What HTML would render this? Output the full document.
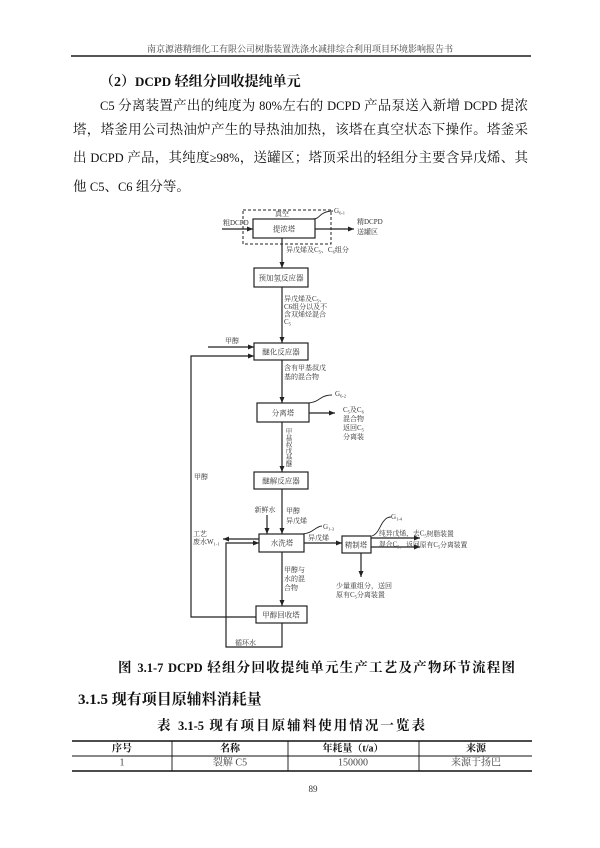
<!DOCTYPE html>
<html><head><meta charset="utf-8">
<style>
html,body{margin:0;padding:0;background:#fff;}
body{width:600px;height:848px;position:relative;overflow:hidden;font-family:"Liberation Serif","Noto Serif CJK SC",serif;color:#111;}
.a{position:absolute;white-space:nowrap;}
.j{position:absolute;text-align:justify;text-align-last:justify;}
.e{font-size:12.5px;}
</style></head><body>

<div class="a" style="left:147px;top:43px;font-size:9px;line-height:12px;color:#444;letter-spacing:0px;">南京源港精细化工有限公司树脂装置洗涤水减排综合利用项目环境影响报告书</div>
<div class="a" style="left:71px;top:55px;width:460px;height:1.5px;background:#555;"></div>

<div class="a" style="left:100px;top:72px;font-size:14px;line-height:20px;font-weight:bold;">（2）<span style="font-size:13px">DCPD</span> 轻组分回收提纯单元</div>

<div class="j" style="left:100px;top:96px;width:428px;font-size:13.5px;line-height:20px;"><span class="e">C5</span> 分离装置产出的纯度为 <span class="e">80%</span>左右的 <span class="e">DCPD</span> 产品泵送入新增 <span class="e">DCPD</span> 提浓</div>
<div class="j" style="left:73px;top:120px;width:455px;font-size:13.5px;line-height:20px;">塔，塔釜用公司热油炉产生的导热油加热，该塔在真空状态下操作。塔釜采</div>
<div class="j" style="left:73px;top:148px;width:455px;font-size:13.5px;line-height:20px;">出 <span class="e">DCPD</span> 产品，其纯度<span class="e">≥98%</span>，送罐区；塔顶采出的轻组分主要含异戊烯、其</div>
<div class="a" style="left:73px;top:177px;font-size:13.5px;line-height:20px;">他 <span class="e">C5</span>、<span class="e">C6</span> 组分等。</div>

<svg class="a" style="left:0;top:0" width="600" height="848" viewBox="0 0 600 848" font-family="Liberation Serif, 'Noto Serif CJK SC', serif">
<defs>
<marker id="m" markerUnits="userSpaceOnUse" markerWidth="6" markerHeight="5" refX="6" refY="2.5" orient="auto"><path d="M0,0 L6,2.5 L0,5 z" fill="#222"/></marker>
</defs>
<g fill="none" stroke="#222" stroke-width="1.2">
<rect x="243" y="210" width="88" height="34" stroke-dasharray="3,2" stroke-width="1"/>
<rect x="253" y="219" width="62" height="19"/>
<rect x="254" y="268" width="54" height="19"/>
<rect x="254" y="343" width="54" height="17"/>
<rect x="257" y="403" width="52" height="19"/>
<rect x="254" y="472" width="54" height="17"/>
<rect x="259" y="534" width="45" height="18"/>
<rect x="342" y="536" width="29" height="17"/>
<rect x="256" y="606" width="51" height="17"/>
<path d="M222,229 H253" marker-end="url(#m)"/>
<path d="M315,229 H354" marker-end="url(#m)"/>
<path d="M282,238 V268" marker-end="url(#m)"/>
<path d="M282,287 V343" marker-end="url(#m)"/>
<path d="M208,347 H254" marker-end="url(#m)"/>
<path d="M256,617 H191 V356 H254" marker-end="url(#m)"/>
<path d="M282,360 V403" marker-end="url(#m)"/>
<path d="M309,413 H335" marker-end="url(#m)"/>
<path d="M282,422 V472" marker-end="url(#m)"/>
<path d="M282,489 V534" marker-end="url(#m)"/>
<path d="M267,515 V534" marker-end="url(#m)"/>
<path d="M259,539 H223" marker-end="url(#m)"/>
<path d="M282,623 V647 H226 V543 H259" marker-end="url(#m)"/>
<path d="M304,543 H342" marker-end="url(#m)"/>
<path d="M371,538 H420" marker-end="url(#m)"/>
<path d="M371,547 H420" marker-end="url(#m)"/>
<path d="M361,553 V577" marker-end="url(#m)"/>
<path d="M282,552 V606" marker-end="url(#m)"/>
<path d="M313,219 C318,219 319,216 322,214 C325,212 328,211 333,211" stroke-width="0.9"/>
<path d="M309,403 C316,402 318,400 321,398 C324,396 327,395 332,395" stroke-width="0.9"/>
<path d="M303,534 C310,533 312,531 315,529 C318,527 320,526 322,526" stroke-width="0.9"/>
<path d="M372,536 C378,534 380,526 383,522 C386,518 388,517 391,517" stroke-width="0.9"/>
</g>
<g fill="#333" font-size="7" dominant-baseline="central">
<text x="282" y="214" text-anchor="middle">真空</text>
<text x="284" y="229" text-anchor="middle" font-size="7.5">提浓塔</text>
<text x="223" y="223">粗DCPD</text>
<text x="357" y="222">精DCPD</text>
<text x="357" y="232">送罐区</text>
<text x="334" y="211">G<tspan font-size="4.5" dy="1.5">6-1</tspan></text>
<text x="286" y="250">异戊烯及C<tspan font-size="4.5" dy="1.5">5</tspan><tspan dy="-1.5">、C</tspan><tspan font-size="4.5" dy="1.5">6</tspan><tspan dy="-1.5">组分</tspan></text>
<text x="281" y="278" text-anchor="middle" font-size="7.5">预加氢反应器</text>
<text x="284" y="299">异戊烯及C<tspan font-size="4.5" dy="1.5">5</tspan><tspan dy="-1.5">、</tspan></text>
<text x="284" y="307">C6组分以及不</text>
<text x="284" y="314.5">含双烯烃混合</text>
<text x="284" y="322">C<tspan font-size="4.5" dy="1.5">5</tspan></text>
<text x="232" y="341" text-anchor="middle">甲醇</text>
<text x="281" y="352" text-anchor="middle" font-size="7.5">醚化反应器</text>
<text x="284" y="368">含有甲基叔戊</text>
<text x="284" y="377">基的混合物</text>
<text x="283" y="413" text-anchor="middle" font-size="7.5">分离塔</text>
<text x="335" y="394">G<tspan font-size="4.5" dy="1.5">6-2</tspan></text>
<text x="343" y="410">C<tspan font-size="4.5" dy="1.5">5</tspan><tspan dy="-1.5">及C</tspan><tspan font-size="4.5" dy="1.5">6</tspan></text>
<text x="343" y="419">混合物</text>
<text x="343" y="428">返回C<tspan font-size="4.5" dy="1.5">5</tspan></text>
<text x="343" y="437">分离装</text>
<g font-size="6.5" text-anchor="middle">
<text x="289" y="432">甲</text><text x="289" y="438.5">基</text><text x="289" y="445">叔</text><text x="289" y="451.5">戊</text><text x="289" y="458">基</text><text x="289" y="464.5">醚</text>
</g>
<text x="281" y="481" text-anchor="middle" font-size="7.5">醚解反应器</text>
<text x="265" y="510" text-anchor="middle">新鲜水</text>
<text x="286" y="511">甲醇</text>
<text x="286" y="521">异戊烯</text>
<text x="282" y="543" text-anchor="middle" font-size="7.5">水洗塔</text>
<text x="323" y="527">G<tspan font-size="4.5" dy="1.5">1-3</tspan></text>
<text x="193" y="534">工艺</text>
<text x="193" y="542">废水W<tspan font-size="4.5" dy="1.5">1-1</tspan></text>
<text x="308" y="538">异戊烯</text>
<text x="356" y="545" text-anchor="middle" font-size="7.5">精制塔</text>
<text x="391" y="517">G<tspan font-size="4.5" dy="1.5">1-4</tspan></text>
<text x="379" y="534" font-size="6.8">纯异戊烯，去C<tspan font-size="4.5" dy="1.5">5</tspan><tspan dy="-1.5">树脂装置</tspan></text>
<text x="379" y="545" font-size="6.8">混合C<tspan font-size="4.5" dy="1.5">5</tspan><tspan dy="-1.5">，返回原有C</tspan><tspan font-size="4.5" dy="1.5">5</tspan><tspan dy="-1.5">分离装置</tspan></text>
<text x="336" y="586">少量重组分，送回</text>
<text x="336" y="595">原有C<tspan font-size="4.5" dy="1.5">5</tspan><tspan dy="-1.5">分离装置</tspan></text>
<text x="284" y="570">甲醇与</text>
<text x="284" y="579">水的混</text>
<text x="284" y="588">合物</text>
<text x="281" y="615" text-anchor="middle" font-size="7.5">甲醇回收塔</text>
<text x="235" y="643">循环水</text>
<text x="194" y="477">甲醇</text>
</g>

<!-- table -->
<g stroke="#111" fill="none">
<line x1="72" y1="741" x2="532" y2="741" stroke-width="1.6"/>
<line x1="72" y1="756" x2="532" y2="756" stroke-width="0.9"/>
<line x1="72" y1="771" x2="532" y2="771" stroke-width="1.6"/>
<line x1="172" y1="741" x2="172" y2="771" stroke-width="0.9"/>
<line x1="288" y1="741" x2="288" y2="771" stroke-width="0.9"/>
<line x1="419" y1="741" x2="419" y2="771" stroke-width="0.9"/>
</g>
<g font-size="10" text-anchor="middle" dominant-baseline="central">
<g font-weight="bold" fill="#111">
<text x="122" y="749">序号</text>
<text x="230" y="749">名称</text>
<text x="353" y="749">年耗量（t/a）</text>
<text x="476" y="749">来源</text>
</g>
<g fill="#444">
<text x="122" y="763">1</text>
<text x="230" y="763">裂解 C5</text>
<text x="353" y="763">150000</text>
<text x="476" y="763">来源于扬巴</text>
</g>
<text x="313" y="789" font-size="9" fill="#333">89</text>
</g>
</svg>

<div class="j" style="left:118px;top:658px;width:397px;font-size:13.5px;line-height:20px;font-weight:bold;">图 <span class="e">3.1-7</span>  <span class="e">DCPD</span> 轻组分回收提纯单元生产工艺及产物环节流程图</div>
<div class="a" style="left:78px;top:690px;font-size:15px;line-height:20px;font-weight:bold;"><span style="font-size:15px">3.1.5</span> 现有项目原辅料消耗量</div>
<div class="j" style="left:157px;top:716px;width:268px;font-size:13.5px;line-height:20px;font-weight:bold;">表 <span class="e">3.1-5</span>  现有项目原辅料使用情况一览表</div>

</body></html>
